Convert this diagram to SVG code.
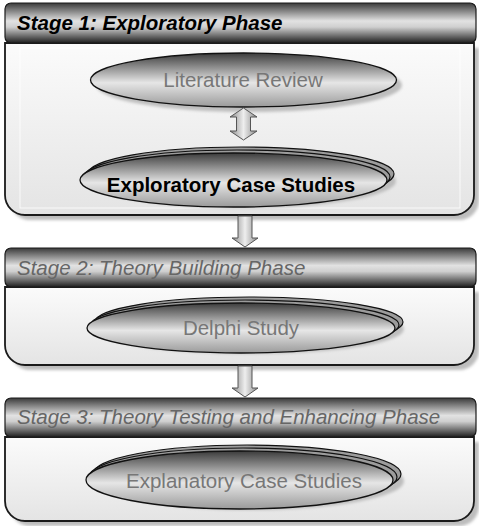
<svg xmlns="http://www.w3.org/2000/svg" width="479" height="526" viewBox="0 0 479 526">
  <defs>
    <linearGradient id="hdr" x1="0" y1="0" x2="0" y2="1">
      <stop offset="0" stop-color="#3a3a3a"/>
      <stop offset="0.45" stop-color="#e2e2e2"/>
      <stop offset="0.6" stop-color="#cfcfcf"/>
      <stop offset="1" stop-color="#1e1e1e"/>
    </linearGradient>
    <linearGradient id="body" x1="0" y1="0" x2="0" y2="1">
      <stop offset="0" stop-color="#fbfbfb"/>
      <stop offset="1" stop-color="#e4e4e4"/>
    </linearGradient>
    <linearGradient id="oval" x1="0" y1="0" x2="0" y2="1">
      <stop offset="0" stop-color="#3c3c3c"/>
      <stop offset="0.55" stop-color="#e6e6e6"/>
      <stop offset="1" stop-color="#9a9a9a"/>
    </linearGradient>
    <linearGradient id="arw" x1="0" y1="0" x2="1" y2="0">
      <stop offset="0" stop-color="#8a8a8a"/>
      <stop offset="0.5" stop-color="#eeeeee"/>
      <stop offset="1" stop-color="#8a8a8a"/>
    </linearGradient>
    <filter id="soft" x="-10%" y="-10%" width="120%" height="130%">
      <feGaussianBlur stdDeviation="1.5"/>
    </filter>
  </defs>
  <style>
    .hdr { fill: url(#hdr); stroke: #1a1a1a; stroke-width: 1.2; }
    .body { fill: url(#body); stroke: #1a1a1a; stroke-width: 1.8; }
    .shadow { fill: #bdbdbd; filter: url(#soft); }
    .oval { fill: url(#oval); stroke: #111; stroke-width: 1.3; }
    .back { fill: #9c9c9c; stroke: #111; stroke-width: 1.2; }
    .arrow { fill: url(#arw); stroke: #555; stroke-width: 1; }
    .inner { fill: none; stroke: #ffffff; stroke-width: 1; opacity: 0.8; }
    .title { font-family: "Liberation Sans", Arial, sans-serif; font-size: 20.5px; font-style: italic; }
    .label { font-family: "Liberation Sans", Arial, sans-serif; font-size: 20.5px; text-anchor: middle; }
  </style>

  <!-- Stage 1 -->
  <g id="stage1">
    <path class="shadow" d="M10,48 V200 A20,20 0 0 0 30,220 H459 A20,20 0 0 0 479,200 V48 Z"/>
    <path class="body" d="M5,43 V195 A20,20 0 0 0 25,215 H454 A20,20 0 0 0 474,195 V43 Z"/>
    <rect class="inner" x="20" y="48" width="440" height="160"/>
    <rect class="hdr" x="5" y="3" width="471" height="40" rx="6"/>
    <text class="title" x="17" y="30" font-weight="bold" fill="#000">Stage 1: Exploratory Phase</text>
  </g>

  <!-- Stage 2 -->
  <g id="stage2">
    <path class="shadow" d="M10,292 V350 A20,20 0 0 0 30,370 H459 A20,20 0 0 0 479,350 V292 Z"/>
    <path class="body" d="M5,287 V345 A20,20 0 0 0 25,365 H454 A20,20 0 0 0 474,345 V287 Z"/>
    <rect class="hdr" x="5" y="248" width="471" height="39" rx="6"/>
    <text class="title" x="17" y="275" fill="#666">Stage 2: Theory Building Phase</text>
  </g>

  <!-- Stage 3 -->
  <g id="stage3">
    <path class="shadow" d="M10,442 V506 A20,20 0 0 0 30,526 H459 A20,20 0 0 0 479,506 V442 Z"/>
    <path class="body" d="M5,437 V501 A20,20 0 0 0 25,521 H454 A20,20 0 0 0 474,501 V437 Z"/>
    <rect class="hdr" x="5" y="398" width="471" height="39" rx="6"/>
    <text class="title" x="17" y="424" fill="#666">Stage 3: Theory Testing and Enhancing Phase</text>
  </g>

  <!-- Literature Review -->
  <g id="literature-review">
    <ellipse class="shadow" cx="249" cy="85" rx="153" ry="27"/>
    <ellipse class="oval" cx="243.5" cy="80" rx="153" ry="27"/>
    <text class="label" x="243" y="87" fill="#777">Literature Review</text>
  </g>

  <!-- Exploratory Case Studies (stacked) -->
  <g id="exploratory-case-studies">
    <ellipse class="shadow" cx="243" cy="181" rx="153" ry="27"/>
    <ellipse class="back" cx="241" cy="174" rx="153" ry="27"/>
    <ellipse class="back" cx="237" cy="177" rx="153" ry="27"/>
    <ellipse class="oval" cx="233.5" cy="180" rx="153.5" ry="27"/>
    <text class="label" x="231" y="192" font-weight="bold" fill="#000">Exploratory Case Studies</text>
  </g>

  <!-- Delphi Study (stacked) -->
  <g id="delphi-study">
    <ellipse class="shadow" cx="250" cy="329" rx="154" ry="25"/>
    <ellipse class="back" cx="249" cy="322" rx="154" ry="25"/>
    <ellipse class="back" cx="245" cy="325" rx="154" ry="25"/>
    <ellipse class="oval" cx="241" cy="328" rx="154" ry="25"/>
    <text class="label" x="241" y="335" fill="#777">Delphi Study</text>
  </g>

  <!-- Explanatory Case Studies (stacked) -->
  <g id="explanatory-case-studies">
    <ellipse class="shadow" cx="250" cy="481" rx="154" ry="29"/>
    <ellipse class="back" cx="247" cy="474" rx="154" ry="29"/>
    <ellipse class="back" cx="243" cy="477" rx="154" ry="29"/>
    <ellipse class="oval" cx="239.5" cy="480" rx="153.5" ry="29"/>
    <text class="label" x="244" y="488" fill="#777">Explanatory Case Studies</text>
  </g>

  <!-- Connectors -->
  <g id="connectors">
    <path class="arrow" d="M243.5,108 L257,117 H250.5 V131 H257 L243.5,140 L230,131 H236.5 V117 H230 Z"/>
    <path class="arrow" d="M238,216 H252 V238 H258 L245,247 L232,238 H238 Z"/>
    <path class="arrow" d="M238,366 H252 V388 H258 L245,397 L232,388 H238 Z"/>
  </g>
</svg>
